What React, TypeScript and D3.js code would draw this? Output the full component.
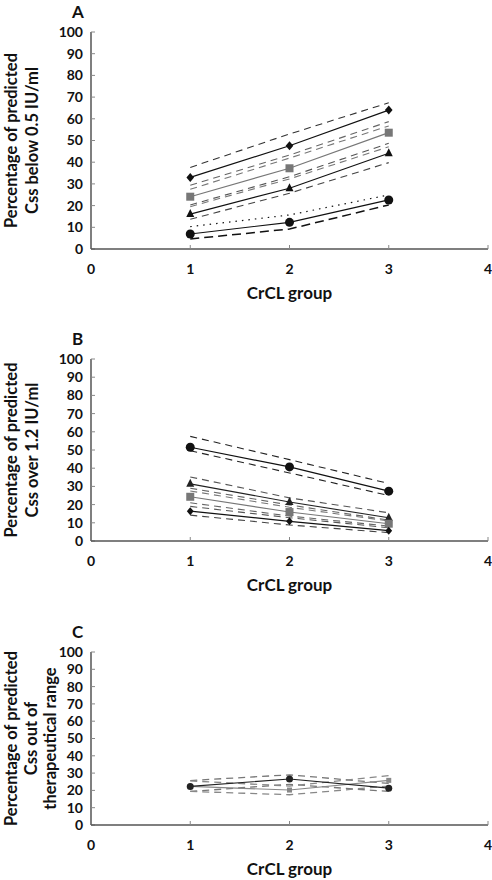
import React from "react";
import * as d3 from "d3";

const groups = [1, 2, 3];
const xTicks = [0, 1, 2, 3, 4];
const yTicks = [0, 10, 20, 30, 40, 50, 60, 70, 80, 90, 100];

// Panel A – Css below 0.5 IU/ml
const aDiamond = [33, 47.6, 64];
const aDiamondHi = [37.6, 53, 67.4];
const aDiamondLo = [29.4, 43.3, 58.7];
const aSquare = [24.1, 37.2, 53.6];
const aSquareHi = [27.5, 41.9, 56.7];
const aSquareLo = [20.3, 33.3, 48.7];
const aTriangle = [16.1, 28, 44.1];
const aTriangleHi = [19.5, 32.3, 47.1];
const aTriangleLo = [13.7, 25.7, 39.8];
const aCircle = [6.9, 12.3, 22.6];
const aCircleHi = [10.3, 15.7, 24.9];
const aCircleLo = [4.6, 9.2, 20.3];

// Panel B – Css over 1.2 IU/ml
const bCircle = [51.5, 40.7, 27.4];
const bCircleHi = [57.5, 44.7, 31.6];
const bCircleLo = [49.6, 37.4, 25];
const bTriangle = [31.4, 21.4, 12.8];
const bTriangleHi = [35.2, 23.7, 15.5];
const bTriangleLo = [29, 19.8, 11.5];
const bSquare = [24.3, 15.9, 9.5];
const bSquareHi = [27.5, 18.5, 11];
const bSquareLo = [21, 13.7, 8.2];
const bDiamond = [16.4, 10.8, 5.7];
const bDiamondHi = [19, 12.8, 7.3];
const bDiamondLo = [14.2, 8.8, 4.6];

// Panel C – Css out of therapeutical range
const cCircle = [22.3, 26.6, 21.3];
const cCircleHi = [25.7, 29, 24];
const cCircleLo = [19.4, 23.5, 19.4];
const cSquare = [22.3, 20.2, 25.8];
const cSquareHi = [25.5, 22.5, 28.5];
const cSquareLo = [19.4, 17.5, 22.5];

const FONT = "Lato, 'Open Sans', sans-serif";
const AXIS = "#555";

type Line = { values: number[]; color: string; width: number; dash?: string; marker?: string; mSize?: number };

type Panel = {
  letter: string;
  y0: number;
  y100: number;
  label: string[];
  lines: Line[];
};

const panels: Panel[] = [
  {
    letter: "A",
    y0: 249,
    y100: 32,
    label: ["Percentage of predicted", "Css below 0.5 IU/ml"],
    lines: [
      { values: aDiamondHi, color: "#333", width: 1.1, dash: "7,5" },
      { values: aDiamondLo, color: "#666", width: 1.1, dash: "7,5" },
      { values: aSquareHi, color: "#777", width: 1.1, dash: "7,5" },
      { values: aSquareLo, color: "#555", width: 1.1, dash: "7,5" },
      { values: aTriangleHi, color: "#777", width: 1.1, dash: "7,5" },
      { values: aTriangleLo, color: "#444", width: 1.1, dash: "7,5" },
      { values: aCircleHi, color: "#111", width: 1.2, dash: "1.5,5" },
      { values: aCircleLo, color: "#111", width: 1.5, dash: "9,5" },
      { values: aDiamond, color: "#111", width: 1.2, marker: "diamond", mSize: 9 },
      { values: aSquare, color: "#777", width: 1.2, marker: "square", mSize: 8 },
      { values: aTriangle, color: "#111", width: 1.2, marker: "triangle", mSize: 8 },
      { values: aCircle, color: "#111", width: 1.2, marker: "circle", mSize: 9 },
    ],
  },
  {
    letter: "B",
    y0: 541,
    y100: 359,
    label: ["Percentage of predicted", "Css over 1.2 IU/ml"],
    lines: [
      { values: bCircleHi, color: "#222", width: 1.1, dash: "7,5" },
      { values: bCircleLo, color: "#222", width: 1.1, dash: "7,5" },
      { values: bTriangleHi, color: "#555", width: 1.1, dash: "7,5" },
      { values: bTriangleLo, color: "#666", width: 1.1, dash: "7,5" },
      { values: bSquareHi, color: "#777", width: 1.1, dash: "7,5" },
      { values: bSquareLo, color: "#666", width: 1.1, dash: "7,5" },
      { values: bDiamondHi, color: "#555", width: 1.1, dash: "7,5" },
      { values: bDiamondLo, color: "#444", width: 1.1, dash: "7,5" },
      { values: bCircle, color: "#111", width: 1.2, marker: "circle", mSize: 9 },
      { values: bTriangle, color: "#222", width: 1.1, marker: "triangle", mSize: 8 },
      { values: bSquare, color: "#777", width: 1.1, marker: "square", mSize: 8 },
      { values: bDiamond, color: "#111", width: 1.2, marker: "diamond", mSize: 8 },
    ],
  },
  {
    letter: "C",
    y0: 825,
    y100: 652,
    label: ["Percentage of predicted", "Css out of", "therapeutical range"],
    lines: [
      { values: cCircleHi, color: "#777", width: 1.3, dash: "7,5" },
      { values: cCircleLo, color: "#777", width: 1.3, dash: "7,5" },
      { values: cSquareHi, color: "#888", width: 1.3, dash: "7,5" },
      { values: cSquareLo, color: "#888", width: 1.3, dash: "7,5" },
      { values: cSquare, color: "#888", width: 1.1, marker: "square", mSize: 5 },
      { values: cCircle, color: "#222", width: 1.1, marker: "circle", mSize: 7 },
    ],
  },
];

const xScale = d3.scaleLinear().domain([0, 4]).range([91, 488]);

function Marker({ type, x, y, size, color }: { type: string; x: number; y: number; size: number; color: string }) {
  const s = size / 2;
  if (type === "circle") return <circle cx={x} cy={y} r={s} fill={color} />;
  if (type === "square") return <rect x={x - s} y={y - s} width={size} height={size} fill={color} />;
  if (type === "triangle")
    return <path d={`M${x},${y - s - 1}L${x + s},${y + s - 1}L${x - s},${y + s - 1}Z`} fill={color} />;
  return <path d={`M${x},${y - s}L${x + s * 0.85},${y}L${x},${y + s}L${x - s * 0.85},${y}Z`} fill={color} />;
}

function PanelView({ p }: { p: Panel }) {
  const y = d3.scaleLinear().domain([0, 100]).range([p.y0, p.y100]);
  const line = d3
    .line<number>()
    .x((_, i) => xScale(groups[i]))
    .y((v) => y(v));
  const cy = (p.y0 + p.y100) / 2;
  const labelX = p.label.length === 3 ? [17, 37, 56] : [17, 38];
  return (
    <g>
      <text x={72} y={p.y100 - 14} fontFamily={FONT} fontWeight="bold" fontSize={17} fill="#111">
        {p.letter}
      </text>
      {p.label.map((t, i) => (
        <text
          key={i}
          transform={`translate(${labelX[i]},${cy}) rotate(-90)`}
          textAnchor="middle"
          fontFamily={FONT}
          fontWeight="bold"
          fontSize={16.5}
          fill="#111"
        >
          {t}
        </text>
      ))}
      {/* y axis */}
      <line x1={xScale(0)} x2={xScale(0)} y1={y(100)} y2={y(0)} stroke={AXIS} strokeWidth={1.5} />
      {yTicks.map((t) => (
        <g key={t}>
          <line x1={xScale(0)} x2={xScale(0) + 4} y1={y(t)} y2={y(t)} stroke="#888" strokeWidth={1} />
          <text
            x={83}
            y={y(t)}
            dy="0.35em"
            textAnchor="end"
            fontFamily={FONT}
            fontWeight="bold"
            fontSize={14}
            fill="#111"
          >
            {t}
          </text>
        </g>
      ))}
      {/* x axis */}
      <line x1={xScale(0)} x2={xScale(4)} y1={y(0)} y2={y(0)} stroke={AXIS} strokeWidth={1.5} />
      {xTicks.map((t) => (
        <g key={t}>
          {t > 0 && (
            <line x1={xScale(t)} x2={xScale(t)} y1={y(0)} y2={y(0) - 4} stroke="#888" strokeWidth={1} />
          )}
          <text
            x={xScale(t)}
            y={p.y0 + 25}
            textAnchor="middle"
            fontFamily={FONT}
            fontWeight="bold"
            fontSize={14}
            fill="#111"
          >
            {t}
          </text>
        </g>
      ))}
      <text
        x={(xScale(0) + xScale(4)) / 2}
        y={p.y0 + 50}
        textAnchor="middle"
        fontFamily={FONT}
        fontWeight="bold"
        fontSize={17}
        fill="#111"
      >
        CrCL group
      </text>
      {p.lines.map((l, i) => (
        <g key={i}>
          <path
            d={line(l.values) || ""}
            fill="none"
            stroke={l.color}
            strokeWidth={l.width}
            strokeDasharray={l.dash}
          />
          {l.marker &&
            l.values.map((v, j) => (
              <Marker key={j} type={l.marker!} x={xScale(groups[j])} y={y(v)} size={l.mSize || 8} color={l.color} />
            ))}
        </g>
      ))}
    </g>
  );
}

export default function App() {
  return (
    <svg
      width={492}
      height={880}
      style={{ position: "absolute", left: 0, top: 0, background: "#fff" }}
    >
      {panels.map((p) => (
        <PanelView key={p.letter} p={p} />
      ))}
    </svg>
  );
}
